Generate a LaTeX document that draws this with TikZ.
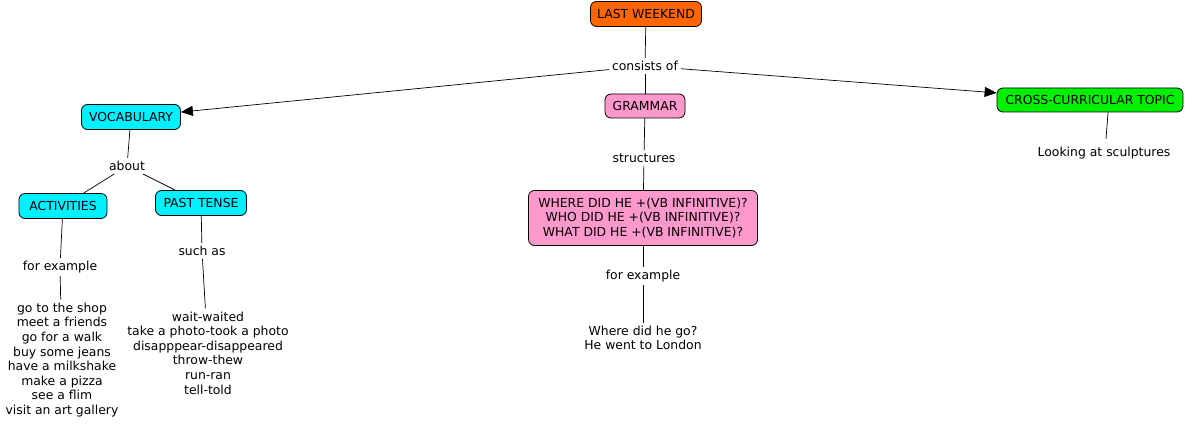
\documentclass[tikz,border=0pt]{standalone}
\usepackage{fontspec}
\setmainfont{DejaVu Sans}
\usetikzlibrary{arrows.meta}
\definecolor{orangebox}{RGB}{255,102,0}
\definecolor{cyanbox}{RGB}{0,240,255}
\definecolor{pinkbox}{RGB}{255,153,204}
\definecolor{greenbox}{RGB}{0,240,0}
\tikzset{
  concept/.style={draw=black, line width=0.8pt, rounded corners=6pt, inner xsep=6pt, inner ysep=5pt, font=\fontsize{12.4}{14.6}\selectfont, align=center},
  linklabel/.style={inner sep=3pt, font=\fontsize{12.4}{14.6}\selectfont, fill=white},
  plain/.style={inner sep=3pt, font=\fontsize{12.4}{14.6}\selectfont, align=center},
  conn/.style={draw=black, line width=0.7pt},
  arr/.style={conn, -{Triangle[length=12pt,width=10pt]}}
}
\begin{document}
\begin{tikzpicture}[x=1pt,y=-1pt]
\useasboundingbox (0,0) rectangle (1185,427);
% concepts
\node[concept, fill=orangebox, minimum width=111pt, minimum height=25pt] (lw) at (646,14) {LAST WEEKEND};
\node[concept, fill=cyanbox, minimum width=99pt, minimum height=25pt] (voc) at (131,117) {VOCABULARY};
\node[concept, fill=pinkbox, minimum width=80pt, minimum height=24pt] (gram) at (645,106) {GRAMMAR};
\node[concept, fill=greenbox, minimum width=186pt, minimum height=24pt] (cross) at (1090,100) {CROSS-CURRICULAR TOPIC};
\node[concept, fill=cyanbox, minimum width=88pt, minimum height=25pt] (act) at (63,206) {ACTIVITIES};
\node[concept, fill=cyanbox, minimum width=91pt, minimum height=25pt] (past) at (201,203) {PAST TENSE};
\node[concept, fill=pinkbox, minimum width=229pt, minimum height=55pt] (where) at (643,218) {WHERE DID HE +(VB INFINITIVE)?\\WHO DID HE +(VB INFINITIVE)?\\WHAT DID HE +(VB INFINITIVE)?};
% link labels
\node[linklabel] (cons) at (645,66) {consists of};
\node[linklabel] (about) at (127,166) {about};
\node[linklabel] (fe1) at (60,267) {for example};
\node[linklabel] (such) at (202,251) {such as};
\node[linklabel] (struct) at (644,158) {structures};
\node[linklabel] (fe2) at (643,276) {for example};
% plain texts
\node[plain] (actlist) at (62,360) {go to the shop\\meet a friends\\go for a walk\\buy some jeans\\have a milkshake\\make a pizza\\see a flim\\visit an art gallery};
\node[plain] (pastlist) at (208,353) {wait-waited\\take a photo-took a photo\\disapppear-disappeared\\throw-thew\\run-ran\\tell-told};
\node[plain] (wherelist) at (643,338) {Where did he go?\\He went to London};
\node[plain] (look) at (1104,153) {Looking at sculptures};
% connectors
\draw[conn] (lw) -- (cons);
\draw[arr] (cons) -- (voc);
\draw[conn] (cons) -- (gram);
\draw[arr] (cons) -- (cross);
\draw[conn] (voc) -- (about);
\draw[conn] (about) -- (act);
\draw[conn] (about) -- (past);
\draw[conn] (act) -- (fe1);
\draw[conn] (fe1) -- (actlist);
\draw[conn] (past) -- (such);
\draw[conn] (such) -- (pastlist);
\draw[conn] (gram) -- (struct);
\draw[conn] (struct) -- (where);
\draw[conn] (where) -- (fe2);
\draw[conn] (fe2) -- (wherelist);
\draw[conn] ([xshift=18pt]cross.south) -- ([xshift=2pt,yshift=5pt]look.north);
\end{tikzpicture}
\end{document}
